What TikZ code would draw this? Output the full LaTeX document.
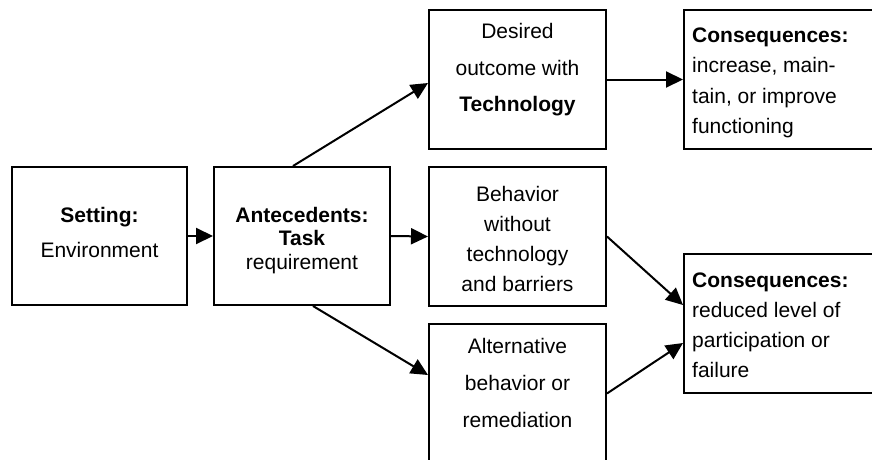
\documentclass[tikz,border=0pt]{standalone}
\usepackage{fontspec}
\setmainfont{Liberation Sans}
\usetikzlibrary{arrows.meta}
\tikzset{
  box/.style={draw, line width=2pt, rectangle, inner sep=0pt},
  txt/.style={anchor=base, inner sep=0pt},
  ltxt/.style={anchor=base west, inner sep=0pt},
  conn/.style={line width=2pt, -{Triangle[length=17pt,width=16pt]}}
}
\newcommand{\ctext}[2]{\parbox[t]{172pt}{\centering\fontsize{21pt}{#1}\selectfont #2}}
\newcommand{\ltext}[2]{\parbox[t]{190pt}{\raggedright\fontsize{21pt}{#1}\selectfont #2}}
\begin{document}
\begin{tikzpicture}[x=1pt,y=-1pt]
\useasboundingbox (0,0) rectangle (872,460);
\clip (0,0) rectangle (872,460);
\fill[white] (0,0) rectangle (872,460);
% boxes
\node[box, minimum width=175pt, minimum height=138pt] (setting) at (99.5,236) {};
\node[box, minimum width=176pt, minimum height=138pt] (ante) at (302,236) {};
\node[box, minimum width=177pt, minimum height=139pt] (desired) at (517.5,79.5) {};
\node[box, minimum width=200pt, minimum height=139pt] (cons1) at (784,79.5) {};
\node[box, minimum width=177pt, minimum height=139pt] (behav) at (517.5,236.5) {};
\node[box, minimum width=177pt, minimum height=139pt] (alt) at (517.5,393.5) {};
\node[box, minimum width=200pt, minimum height=139pt] (cons2) at (784,323.5) {};
% texts
\node[txt] (settingtxt) at (99.5,222) {\ctext{35pt}{\textbf{Setting:}\\Environment}};
\node[txt] (antetxt) at (302,222) {\ctext{23.5pt}{\textbf{Antecedents:}\\\textbf{Task}\\requirement}};
\node[txt] (desiredtxt) at (517.5,39) {\ctext{36.5pt}{Desired\\outcome with\\\textbf{Technology}}};
\node[ltxt] (cons1txt) at (692,43) {\ltext{30pt}{\textbf{Consequences:}\\increase, main-\\tain, or improve\\functioning}};
\node[txt] (behavtxt) at (517.5,201) {\ctext{30pt}{Behavior\\without\\technology\\and barriers}};
\node[txt] (alttxt) at (517.5,353) {\ctext{37pt}{Alternative\\behavior or\\remediation}};
\node[ltxt] (cons2txt) at (692,287) {\ltext{30pt}{\textbf{Consequences:}\\reduced level of\\participation or\\failure}};
% connectors
\draw[conn] (setting.east) -- (ante.west);
\draw[conn] (ante.east) -- (behav.west);
\draw[conn] ([xshift=-9pt]ante.north) -- ([yshift=-3.5pt]desired.west);
\draw[conn] ([xshift=11pt]ante.south) -- ([yshift=18.5pt]alt.west);
\draw[conn] (desired.east) -- (cons1.west);
\draw[conn] (behav.east) -- ([yshift=18.5pt]cons2.west);
\draw[conn] (alt.east) -- ([yshift=-19.5pt]cons2.west);
\end{tikzpicture}
\end{document}
